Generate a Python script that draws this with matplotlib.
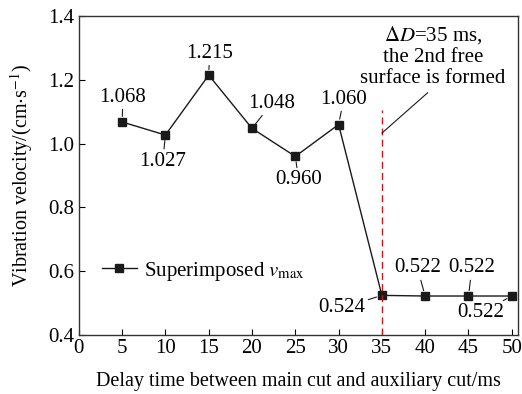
import matplotlib
matplotlib.use('Agg')
import matplotlib.pyplot as plt

# Data
delay = [5, 10, 15, 20, 25, 30, 35, 40, 45, 50]
vmax = [1.068, 1.027, 1.215, 1.048, 0.960, 1.060, 0.524, 0.522, 0.522, 0.522]
labels = ['1.068', '1.027', '1.215', '1.048', '0.960', '1.060', '0.524', '0.522', '0.522', '0.522']
# label text positions (data coords)
label_pos = [(5.1, 1.146), (9.7, 0.945), (15.1, 1.284), (22.3, 1.127), (25.4, 0.886),
             (30.6, 1.14), (30.4, 0.485), (39.1, 0.61), (45.4, 0.61), (46.4, 0.469)]

plt.rcParams['font.family'] = 'Liberation Serif'
plt.rcParams['mathtext.fontset'] = 'stix'
plt.rcParams['font.size'] = 15

def main():
	fig = plt.figure(figsize=(5.22, 3.94), dpi=100)
	ax = fig.add_axes([0.151, 0.150, 0.841, 0.809])

	ax.plot(delay, vmax, color='#1a1a1a', lw=1, marker='s', ms=5.5,
		label='Superimposed $v_{\\rm max}$')

	#labels with short leader lines
	for x, y, t, p in zip(delay, vmax, labels, label_pos):
		ax.annotate(t, xy=(x, y), xytext=p, ha='center', va='center', fontsize=15,
			arrowprops=dict(arrowstyle='-', lw=0.8, color='#1a1a1a', shrinkA=0, shrinkB=4))

	#red dashed line at 35 ms
	ax.plot([35, 35], [0.4, 1.105], color='red', lw=1, ls=(0, (5, 3)))
	ax.annotate('$\\Delta D$=35 ms,\nthe 2nd free\nsurface is formed', xy=(35, 1.033),
		xytext=(40.9, 1.275), ha='center', va='center', fontsize=15, linespacing=1.15,
		arrowprops=dict(arrowstyle='-', lw=0.8, color='#1a1a1a', shrinkA=2, shrinkB=0,
			relpos=(0.5, 0)))

	ax.set_xlim(0, 50.7)
	ax.set_ylim(0.4, 1.4)
	ax.set_xticks(range(0, 51, 5))
	ax.set_yticks([0.4, 0.6, 0.8, 1.0, 1.2, 1.4])
	ax.set_yticklabels(['0.4', '0.6', '0.8', '1.0', '1.2', '1.4'])
	ax.tick_params(direction='in', length=4, labelsize=15, pad=3)
	ax.set_xlabel('Delay time between main cut and auxiliary cut/ms', fontsize=14.5, labelpad=10)
	ax.set_ylabel('Vibration velocity/(cm$\\cdot$s$^{-1}$)', fontsize=14.5, labelpad=10)
	for s in ax.spines.values():
		s.set_linewidth(1)
		s.set_color('#333333')

	ax.legend(loc='center left', bbox_to_anchor=(0.009, 0.2), frameon=False, fontsize=15,
		handlelength=1.7, handletextpad=0.35)

	fig.savefig('out.png', dpi=100)

if __name__ == '__main__':
	main()
